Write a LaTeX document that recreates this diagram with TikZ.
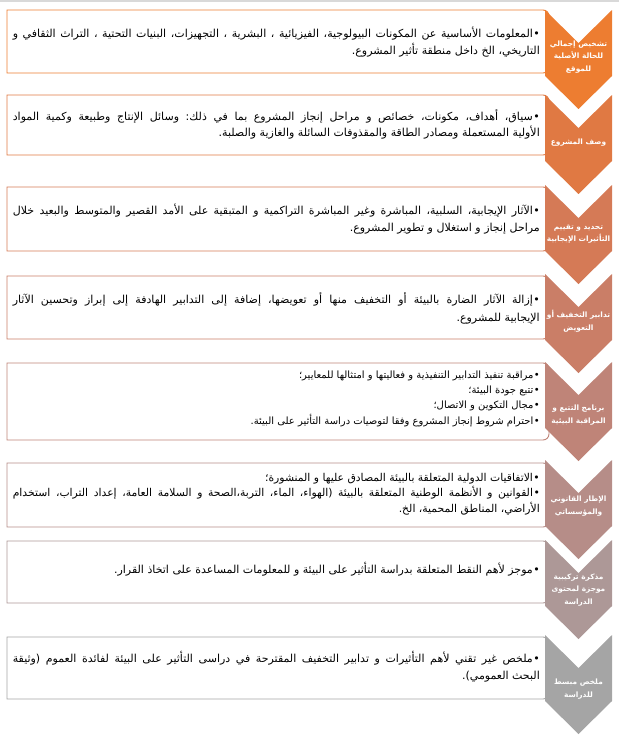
\documentclass[tikz,border=0pt]{standalone}
\usepackage{graphicx}
\usepackage{fontspec}
\setmainfont{DejaVu Sans}
\newfontfamily\arabicfont[Script=Arabic]{DejaVu Sans}
\TeXXeTstate=1
\newcommand{\AR}[1]{{\arabicfont\beginR #1\endR}}
\newcommand{\JL}[1]{\setbox0=\hbox{\spaceskip=\fontdimen2\font plus 1fil\xspaceskip=\spaceskip\beginR #1\endR}%
  \ifdim\wd0>527pt \resizebox{527pt}{\height}{\box0}\else\hbox to 527pt{\unhbox0}\fi}
\newcommand{\bul}{•\kern0.5pt}
\definecolor{c1}{RGB}{237,125,49}
\definecolor{c2}{RGB}{224,121,67}
\definecolor{c3}{RGB}{213,122,86}
\definecolor{c4}{RGB}{202,126,103}
\definecolor{c5}{RGB}{191,132,120}
\definecolor{c6}{RGB}{182,141,136}
\definecolor{c7}{RGB}{173,152,151}
\definecolor{c8}{RGB}{165,165,165}
\tikzset{
  ln/.style={anchor=base east, inner sep=0pt, font=\arabicfont\fontsize{11}{13}\selectfont},
  lnS/.style={ln, font=\arabicfont\fontsize{10}{12}\selectfont},
  lnM/.style={ln, font=\arabicfont\fontsize{10.8}{12}\selectfont},
  chevlabel/.style={text=white, inner sep=0pt, align=center,
    font=\arabicfont\bfseries\fontsize{7.4}{12.5}\selectfont},
  boxline/.style={line width=0.9pt, fill=white},
}
\newcommand{\TextBox}[3]{% color, top, bottom
  \draw[boxline, draw=#1] (20,#3) -- (7,#3) -- (7,#2) -- (20,#2) [rounded corners=6pt] -- (549,#2) -- (549,#3) -- cycle;}
\newcommand{\Chev}[2]{% color, top
  \fill[#1] (545,#2) -- (578.5,#2+33) -- (612,#2) -- (612,#2+66) -- (578.5,#2+99) -- (545,#2+66) -- cycle;}
\begin{document}
\begin{tikzpicture}[x=1pt,y=-1pt]
\useasboundingbox (0,0) rectangle (619,753);
\fill[black!15] (0,0) rectangle (619,1.5);
% boxes
\TextBox{c1}{10}{73}
\TextBox{c2}{95}{155}
\TextBox{c3}{187}{251}
\TextBox{c4}{276}{339}
\TextBox{c5}{363}{440}
\TextBox{c6}{463}{527}
\TextBox{c7}{541}{603}
\TextBox{c8}{637}{699}
% chevrons
\Chev{c1}{10}
\Chev{c2}{95}
\Chev{c3}{185}
\Chev{c4}{274}
\Chev{c5}{362}
\Chev{c6}{460}
\Chev{c7}{540}
\Chev{c8}{635}
% texts
\node[ln] (t1a) at (540,37) {\JL{\bul المعلومات الأساسية عن المكونات البيولوجية، الفيزيائية ، البشرية ، التجهيزات، البنيات التحتية ، التراث الثقافي و}};
\node[ln] (t1b) at (540,54) {\AR{التاريخي، الخ داخل منطقة تأثير المشروع.}};
\node[ln] (t2a) at (540,120) {\JL{\bul سياق، أهداف، مكونات، خصائص و مراحل إنجاز المشروع بما في ذلك: وسائل الإنتاج وطبيعة وكمية المواد}};
\node[ln] (t2b) at (540,136) {\AR{الأولية المستعملة ومصادر الطاقة والمقذوفات السائلة والغازية والصلبة.}};
\node[ln] (t3a) at (540,214) {\JL{\bul الآثار الإيجابية، السلبية، المباشرة وغير المباشرة التراكمية و المتبقية على الأمد القصير والمتوسط والبعيد خلال}};
\node[ln] (t3b) at (540,231) {\AR{مراحل إنجاز و استغلال و تطوير المشروع.}};
\node[ln] (t4a) at (540,303) {\JL{\bul إزالة الآثار الضارة بالبيئة أو التخفيف منها أو تعويضها، إضافة إلى التدابير الهادفة إلى إبراز وتحسين الآثار}};
\node[ln] (t4b) at (540,321) {\AR{الإيجابية للمشروع.}};
\node[lnS] (t5a) at (540,378) {\AR{\bul مراقبة تنفيذ التدابير التنفيذية و فعاليتها و امتثالها للمعايير؛}};
\node[lnS] (t5b) at (540,393) {\AR{\bul تتبع جودة البيئة؛}};
\node[lnS] (t5c) at (540,408) {\AR{\bul مجال التكوين و الاتصال؛}};
\node[lnS] (t5d) at (540,424) {\AR{\bul احترام شروط إنجاز المشروع وفقا لتوصيات دراسة التأثير على البيئة.}};
\node[lnM] (t6a) at (540,481) {\AR{\bul الاتفاقيات الدولية المتعلقة بالبيئة المصادق عليها و المنشورة؛}};
\node[lnM] (t6b) at (540,496.5) {\JL{\bul القوانين و الأنظمة الوطنية المتعلقة بالبيئة (الهواء، الماء، التربة،الصحة و السلامة العامة، إعداد التراب، استخدام}};
\node[lnM] (t6c) at (540,512) {\AR{الأراضي، المناطق المحمية، الخ.}};
\node[ln] (t7a) at (540,573) {\AR{\bul موجز لأهم النقط المتعلقة بدراسة التأثير على البيئة و للمعلومات المساعدة على اتخاذ القرار.}};
\node[ln] (t8a) at (540,662) {\JL{\bul ملخص غير تقني لأهم التأثيرات و تدابير التخفيف المقترحة في دراسى التأثير على البيئة لفائدة العموم (وثيقة}};
\node[ln] (t8b) at (540,679) {\AR{البحث العمومي).}};
% chevron labels
\node[chevlabel] (l1) at (578.5,57) {\AR{تشخيص إجمالي}\\ \AR{للحالة الأصلية}\\ \AR{للموقع}};
\node[chevlabel] (l2) at (578.5,143) {\AR{وصف المشروع}};
\node[chevlabel] (l3) at (578.5,234) {\AR{تحديد و تقييم}\\ \AR{التأثيرات الإيجابية}};
\node[chevlabel] (l4) at (578.5,321) {\AR{تدابير التخفيف أو}\\ \AR{التعويض}};
\node[chevlabel] (l5) at (578.5,415) {\AR{برنامج التتبع و}\\ \AR{المراقبة البيئية}};
\node[chevlabel] (l6) at (578.5,506) {\AR{الإطار القانوني}\\ \AR{والمؤسساتي}};
\node[chevlabel] (l7) at (578.5,590) {\AR{مذكرة تركيبية}\\ \AR{موجزة لمحتوى}\\ \AR{الدراسة}};
\node[chevlabel] (l8) at (578.5,689) {\AR{ملخص مبسط}\\ \AR{للدراسة}};
\end{tikzpicture}
\end{document}
